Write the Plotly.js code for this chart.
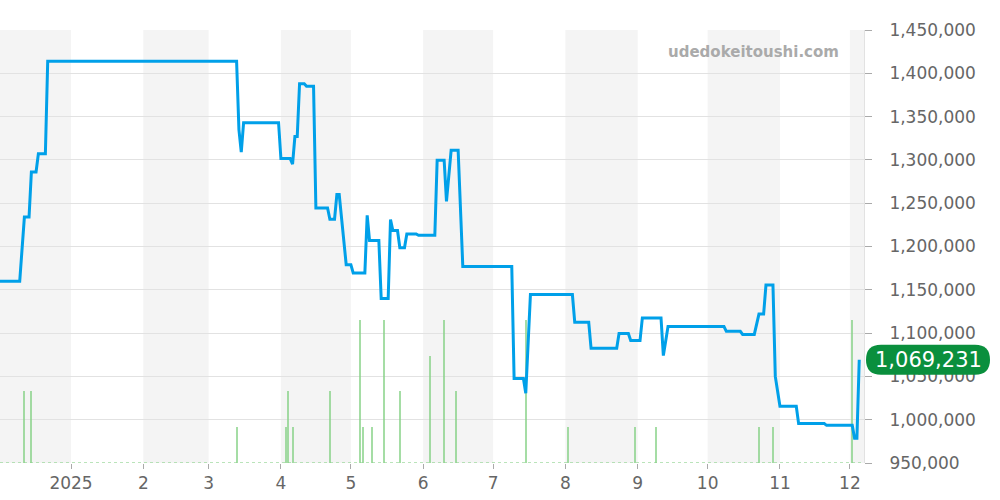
<!DOCTYPE html>
<html>
<head>
<meta charset="utf-8">
<script src="https://cdn.plot.ly/plotly-3.0.1.min.js"></script>
<style>
html,body{margin:0;padding:0;background:#fff;}
#chart{width:1000px;height:500px;}
</style>
</head>
<body>
<div id="chart"></div>
<script>
// ---- price series ----
var priceDates = [
 '2024-12-01','2024-12-10','2024-12-12','2024-12-14','2024-12-15','2024-12-17','2024-12-18','2024-12-21','2024-12-22',
 '2025-03-13','2025-03-14','2025-03-15','2025-03-16','2025-03-31','2025-04-01','2025-04-05','2025-04-06','2025-04-07',
 '2025-04-08','2025-04-09','2025-04-11','2025-04-12','2025-04-15','2025-04-16','2025-04-21','2025-04-22','2025-04-24',
 '2025-04-25','2025-04-26','2025-04-29','2025-05-01','2025-05-02','2025-05-07','2025-05-08','2025-05-09','2025-05-13',
 '2025-05-14','2025-05-17','2025-05-18','2025-05-19','2025-05-21','2025-05-22','2025-05-24','2025-05-25','2025-05-29',
 '2025-05-30','2025-06-06','2025-06-07','2025-06-10','2025-06-11','2025-06-13','2025-06-16','2025-06-18','2025-07-09',
 '2025-07-10','2025-07-14','2025-07-15','2025-07-17','2025-08-04','2025-08-05','2025-08-11','2025-08-12','2025-08-23',
 '2025-08-24','2025-08-28','2025-08-29','2025-09-02','2025-09-03','2025-09-11','2025-09-12','2025-09-14','2025-10-08',
 '2025-10-09','2025-10-15','2025-10-16','2025-10-21','2025-10-23','2025-10-25','2025-10-26','2025-10-29','2025-10-30',
 '2025-11-01','2025-11-08','2025-11-09','2025-11-20','2025-11-21','2025-12-02','2025-12-03','2025-12-04','2025-12-05'
];
var priceValues = [
 1160000,1160000,1234000,1234000,1286000,1286000,1307000,1307000,1414000,
 1414000,1335000,1309000,1343000,1343000,1301500,1301500,1295000,1327000,
 1327000,1388000,1388000,1385000,1385000,1244500,1244500,1231500,1231500,
 1260000,1260000,1179000,1179000,1169500,1169500,1236000,1207000,1207000,
 1140000,1140000,1231000,1218500,1218500,1198500,1198500,1214500,1214500,
 1213000,1213000,1299500,1299500,1252000,1311000,1311000,1177000,1177000,
 1047500,1047500,1030500,1144500,1144500,1112500,1112500,1082500,1082500,
 1099500,1099500,1091500,1091500,1117500,1117500,1074000,1107500,1107500,
 1102000,1102000,1098500,1098500,1122000,1122000,1155500,1155500,1050000,
 1015500,1015500,995500,995500,993500,993500,978500,978500,1069231
];

// ---- volume series ----
var volDates = [
 '2024-12-12','2024-12-15','2025-03-13','2025-04-03','2025-04-04','2025-04-06','2025-04-22','2025-05-05',
 '2025-05-06','2025-05-10','2025-05-15','2025-05-22','2025-06-04','2025-06-10','2025-06-15','2025-07-15',
 '2025-08-02','2025-08-31','2025-09-09','2025-10-23','2025-10-29','2025-12-02'
];
var volValues = [2,2,1,1,2,1,2,4,1,1,4,2,3,4,2,4,1,1,1,1,1,4];

// ---- axis ticks ----
var xTickVals = ['2025-01-01','2025-02-01','2025-03-01','2025-04-01','2025-05-01','2025-06-01','2025-07-01',
                 '2025-08-01','2025-09-01','2025-10-01','2025-11-01','2025-12-01'];
var xTickText = ['2025','2','3','4','5','6','7','8','9','10','11','12'];
var yTickVals = [950000,1000000,1050000,1100000,1150000,1200000,1250000,1300000,1350000,1400000,1450000];

// shaded months (start, end)
var bandStarts = ['2024-12-01','2025-02-01','2025-04-01','2025-06-01','2025-08-01','2025-10-01','2025-12-01'];
var bandEnds   = ['2025-01-01','2025-03-01','2025-05-01','2025-07-01','2025-09-01','2025-11-01','2026-01-01'];

var watermark = 'udedokeitoushi.com';

var lastValue = priceValues[priceValues.length - 1];
var lastLabel = lastValue.toLocaleString('en-US');

var FONT = 'DejaVu Sans, sans-serif';

var shapes = [];
for (var i = 0; i < bandStarts.length; i++) {
  shapes.push({type:'rect', xref:'x', yref:'paper', x0:bandStarts[i], x1:bandEnds[i], y0:0, y1:1,
               fillcolor:'#f4f4f4', line:{width:0}, layer:'below'});
}
// dotted baseline for volume
shapes.push({type:'line', xref:'paper', yref:'y', x0:0, x1:1, y0:0, y1:0,
             line:{color:'rgba(140,210,140,0.8)', width:1.5, dash:'dot'}, layer:'above'});
// pill for last value
var w = 124, h = 30, r = 15, off = 2;
var pill = 'M' + (off + r) + ',' + (-h/2) +
  ' L' + (off + w - r) + ',' + (-h/2) +
  ' Q' + (off + w) + ',' + (-h/2) + ' ' + (off + w) + ',0' +
  ' Q' + (off + w) + ',' + (h/2) + ' ' + (off + w - r) + ',' + (h/2) +
  ' L' + (off + r) + ',' + (h/2) +
  ' Q' + off + ',' + (h/2) + ' ' + off + ',0' +
  ' Q' + off + ',' + (-h/2) + ' ' + (off + r) + ',' + (-h/2) + ' Z';
shapes.push({type:'path', xref:'paper', yref:'y2', xsizemode:'pixel', ysizemode:'pixel',
             xanchor:1, yanchor:lastValue, path:pill, fillcolor:'#0a8f3d', line:{width:0}, layer:'above'});

var traces = [
  {type:'bar', x:volDates, y:volValues, yaxis:'y', xaxis:'x',
   marker:{color:'rgba(135,210,135,0.75)', line:{width:0}}, width:86400000*0.85,
   hoverinfo:'skip', showlegend:false},
  {type:'scatter', mode:'lines', x:priceDates, y:priceValues, yaxis:'y2', xaxis:'x',
   line:{color:'#00a0e9', width:3}, showlegend:false}
];

var layout = {
  width:1000, height:500,
  margin:{l:0, r:136, t:30, b:37},
  paper_bgcolor:'#ffffff', plot_bgcolor:'#ffffff',
  font:{family:FONT, color:'#666', size:17},
  showlegend:false,
  bargap:0,
  xaxis:{
    type:'date', range:['2024-12-01 13:00','2025-12-07 01:00'],
    tickvals:xTickVals, ticktext:xTickText,
    ticks:'outside', ticklen:5, tickcolor:'#aaa',
    showgrid:false, zeroline:false, showline:false,
    tickfont:{family:FONT, size:17, color:'#666'}
  },
  yaxis:{
    range:[0, 12.1], visible:false, fixedrange:true
  },
  yaxis2:{
    overlaying:'y', side:'right', range:[950000,1450000],
    tickvals:yTickVals, tickformat:',d',
    ticks:'outside', ticklen:7, tickcolor:'#aaa',
    ticklabelstandoff:14,
    showgrid:true, gridcolor:'#e2e2e2', gridwidth:1,
    showline:true, linecolor:'#e2e2e2', zeroline:false,
    tickfont:{family:FONT, size:17, color:'#666'}
  },
  shapes:shapes,
  annotations:[
    {xref:'paper', yref:'paper', x:841/864, y:1 - 22/433, xanchor:'right', yanchor:'middle',
     text:'<b>' + watermark + '</b>', showarrow:false,
     font:{family:FONT, size:15, color:'#aaaaaa'}},
    {xref:'paper', yref:'y2', x:1, y:lastValue, xanchor:'center', yanchor:'middle', xshift:off + w/2,
     text:lastLabel, showarrow:false, font:{family:FONT, size:21, color:'#ffffff'}}
  ]
};

Plotly.newPlot('chart', traces, layout, {displayModeBar:false, staticPlot:true});
</script>
</body>
</html>
